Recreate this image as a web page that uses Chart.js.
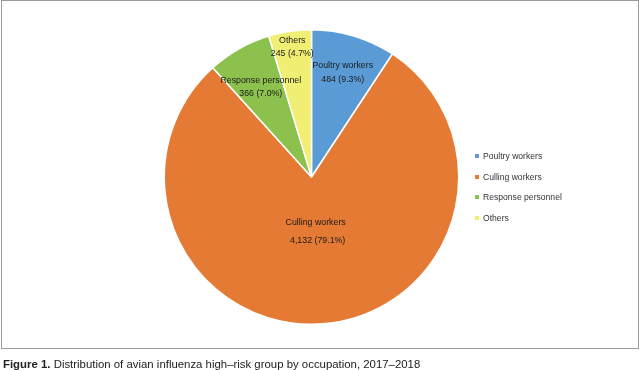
<!DOCTYPE html>
<html>
<head>
<meta charset="utf-8">
<script src="https://cdn.jsdelivr.net/npm/chart.js@4"></script>
<style>
  html, body { margin: 0; padding: 0; background: #fff; }
  #wrap { position: relative; width: 640px; height: 370px; overflow: hidden; font-family: "Liberation Sans", Arial, sans-serif; }
  #frame { position: absolute; left: 1px; top: 0px; width: 636px; height: 347px; border: 1px solid #9a9a9a; }
  canvas { position: absolute; left: 0; top: 0; }
  #legend { position: absolute; left: 475px; top: 149px; font-size: 8.6px; color: #333; }
  .item { position: absolute; left: 0; white-space: nowrap; height: 14px; line-height: 14px; }
  .box { position: absolute; left: 0; top: 5px; width: 4px; height: 4px; }
  .txt { position: absolute; left: 8px; top: 0; }
  #caption { position: absolute; left: 3px; top: 357px; font-size: 11.4px; line-height: 14px; color: #222; white-space: nowrap; }
  #caption b { font-weight: bold; }
</style>
</head>
<body>
<div id="wrap">
  <div id="frame"></div>
  <canvas id="c" width="640" height="370"></canvas>
  <div id="legend"></div>
  <div id="caption"><b>Figure 1.</b> Distribution of avian influenza high–risk group by occupation, 2017–2018</div>
</div>
<script>
const categories = ['Poultry workers', 'Culling workers', 'Response personnel', 'Others'];
const counts = [484, 4132, 366, 245];
const percents = [9.3, 79.1, 7.0, 4.7];
const colors = ['#5B9BD5', '#E47A33', '#8CC14E', '#F0EE73'];

// label placement (style only): radius fraction, line gap, x shift of 2nd line
const labelStyle = [
  { frac: 0.74, gap: 14, dx2: 0 },
  { frac: 0.37, gap: 18, dx2: 2 },
  { frac: 0.70, gap: 13, dx2: 0 },
  { frac: 0.89, gap: 13, dx2: 0 }
];

const sliceLabels = {
  id: 'sliceLabels',
  afterDatasetsDraw(chart) {
    const ctx = chart.ctx;
    const meta = chart.getDatasetMeta(0);
    ctx.save();
    ctx.font = '8.8px "Liberation Sans", Arial, sans-serif';
    ctx.fillStyle = '#1a1a1a';
    ctx.textAlign = 'center';
    ctx.textBaseline = 'middle';
    meta.data.forEach((arc, i) => {
      const p = arc.getProps(['x', 'y', 'startAngle', 'endAngle', 'outerRadius'], true);
      const mid = (p.startAngle + p.endAngle) / 2;
      const s = labelStyle[i];
      const r = p.outerRadius * s.frac;
      const cx = p.x + Math.cos(mid) * r;
      const cy = p.y + Math.sin(mid) * r;
      const line1 = categories[i];
      const line2 = counts[i].toLocaleString('en-US') + ' (' + percents[i].toFixed(1) + '%)';
      ctx.fillText(line1, cx, cy - s.gap / 2);
      ctx.fillText(line2, cx + s.dx2, cy + s.gap / 2);
    });
    ctx.restore();
  }
};

new Chart(document.getElementById('c'), {
  type: 'pie',
  data: {
    labels: categories,
    datasets: [{
      data: counts,
      backgroundColor: colors,
      borderColor: '#ffffff',
      borderWidth: 1.5
    }]
  },
  options: {
    responsive: false,
    animation: false,
    devicePixelRatio: 1,
    rotation: 0,
    layout: { padding: { left: 163, right: 180, top: 29, bottom: 45 } },
    plugins: {
      legend: { display: false },
      tooltip: { enabled: false }
    }
  },
  plugins: [sliceLabels]
});

// HTML legend built from the same arrays
const lg = document.getElementById('legend');
categories.forEach((name, i) => {
  const it = document.createElement('div');
  it.className = 'item';
  it.style.top = (i * 20.6) + 'px';
  const b = document.createElement('span');
  b.className = 'box';
  b.style.background = colors[i];
  const t = document.createElement('span');
  t.className = 'txt';
  t.textContent = name;
  it.appendChild(b); it.appendChild(t);
  lg.appendChild(it);
});
</script>
</body>
</html>
